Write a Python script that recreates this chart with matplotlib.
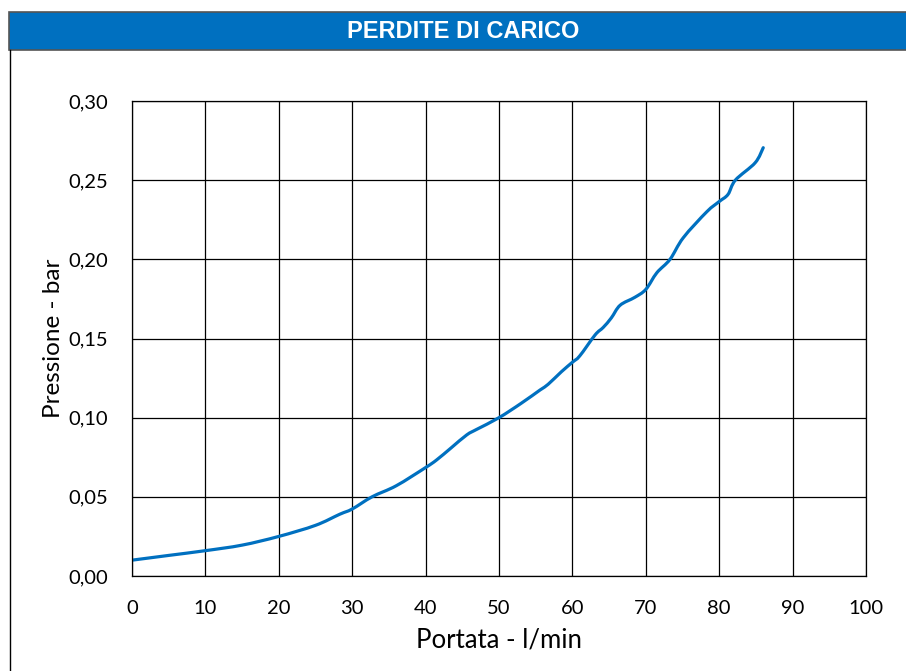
import matplotlib
matplotlib.use('Agg')
from matplotlib import pyplot as plt
from matplotlib.patches import Rectangle, PathPatch
from matplotlib.lines import Line2D
from matplotlib.path import Path
from matplotlib.ticker import FuncFormatter

# flow rate (l/min) and pressure drop (bar)
portata = [0, 5, 10, 15, 20, 25, 28.3, 30, 32.7, 36, 40, 41.5, 43.5, 45.6, 47,
           50, 53, 55.6, 56.7, 58.5, 60, 61, 63.1, 64.2, 65.3, 66.5, 68.5, 70,
           71.5, 73.3, 75.1, 78.3, 80, 81.2, 82.2, 84.9, 86.0]
pressione = [0.010, 0.013, 0.016, 0.0195, 0.025, 0.032, 0.039, 0.0423, 0.050,
             0.057, 0.0685, 0.0733, 0.081, 0.0891, 0.0927, 0.100, 0.109, 0.1175,
             0.1211, 0.129, 0.135, 0.139, 0.1523, 0.157, 0.163, 0.171, 0.176,
             0.181, 0.1915, 0.200, 0.2136, 0.230, 0.2365, 0.241, 0.250, 0.261,
             0.2705]

x_ticks = list(range(0, 101, 10))
y_ticks = [0.00, 0.05, 0.10, 0.15, 0.20, 0.25, 0.30]

title = 'PERDITE DI CARICO'
blue = '#0070C0'


def smooth_path(xs, ys):
    '''bezier path through the points, like a spreadsheet "smoothed line"'''
    pts = list(zip(xs, ys))
    verts = [pts[0]]
    codes = [Path.MOVETO]
    n = len(pts)
    for i in range(n - 1):
        p0 = pts[max(i - 1, 0)]
        p1 = pts[i]
        p2 = pts[i + 1]
        p3 = pts[min(i + 2, n - 1)]
        c1 = (p1[0] + (p2[0] - p0[0]) / 6, p1[1] + (p2[1] - p0[1]) / 6)
        c2 = (p2[0] - (p3[0] - p1[0]) / 6, p2[1] - (p3[1] - p1[1]) / 6)
        verts += [c1, c2, p2]
        codes += [Path.CURVE4] * 3
    return Path(verts, codes)


fig = plt.figure(figsize=(9.06, 6.71), dpi=100)

# title bar and frame
fig.add_artist(Rectangle((9 / 906, 1 - 50 / 671), 1.0, 38 / 671,
                         transform=fig.transFigure, facecolor=blue,
                         edgecolor='#555555', linewidth=1.2))
fig.add_artist(Line2D([9.5 / 906, 9.5 / 906], [0, 1 - 50 / 671],
                      transform=fig.transFigure, color='black', linewidth=1.0))
fig.text(463 / 906, 1 - 31 / 671, title, ha='center', va='center', color='white',
         fontsize=17, fontweight='bold', family='Liberation Sans')

ax = fig.add_axes([132 / 906, 95 / 671, 734 / 906, 475 / 671])
ax.add_patch(PathPatch(smooth_path(portata, pressione), facecolor='none',
                       edgecolor=blue, linewidth=2.3, capstyle='round',
                       joinstyle='round'))

ax.set_xlim(0, 100)
ax.set_ylim(0, 0.30)
ax.set_xticks(x_ticks)
ax.set_yticks(y_ticks)
ax.yaxis.set_major_formatter(FuncFormatter(lambda v, p: f'{v:.2f}'.replace('.', ',')))
ax.grid(True, color='black', linewidth=0.9)
ax.set_axisbelow(True)
for s in ax.spines.values():
    s.set_color('black')
    s.set_linewidth(0.9)

ax.tick_params(length=0, labelsize=14.5, pad=17)
for lab in ax.get_xticklabels() + ax.get_yticklabels():
    lab.set_family('Lato')

ax.set_xlabel('Portata - l/min', family='Lato', fontsize=18.5, labelpad=8)
ax.set_ylabel('Pressione - bar', family='Lato', fontsize=17.5, labelpad=3)

fig.savefig('out.png', dpi=100)
